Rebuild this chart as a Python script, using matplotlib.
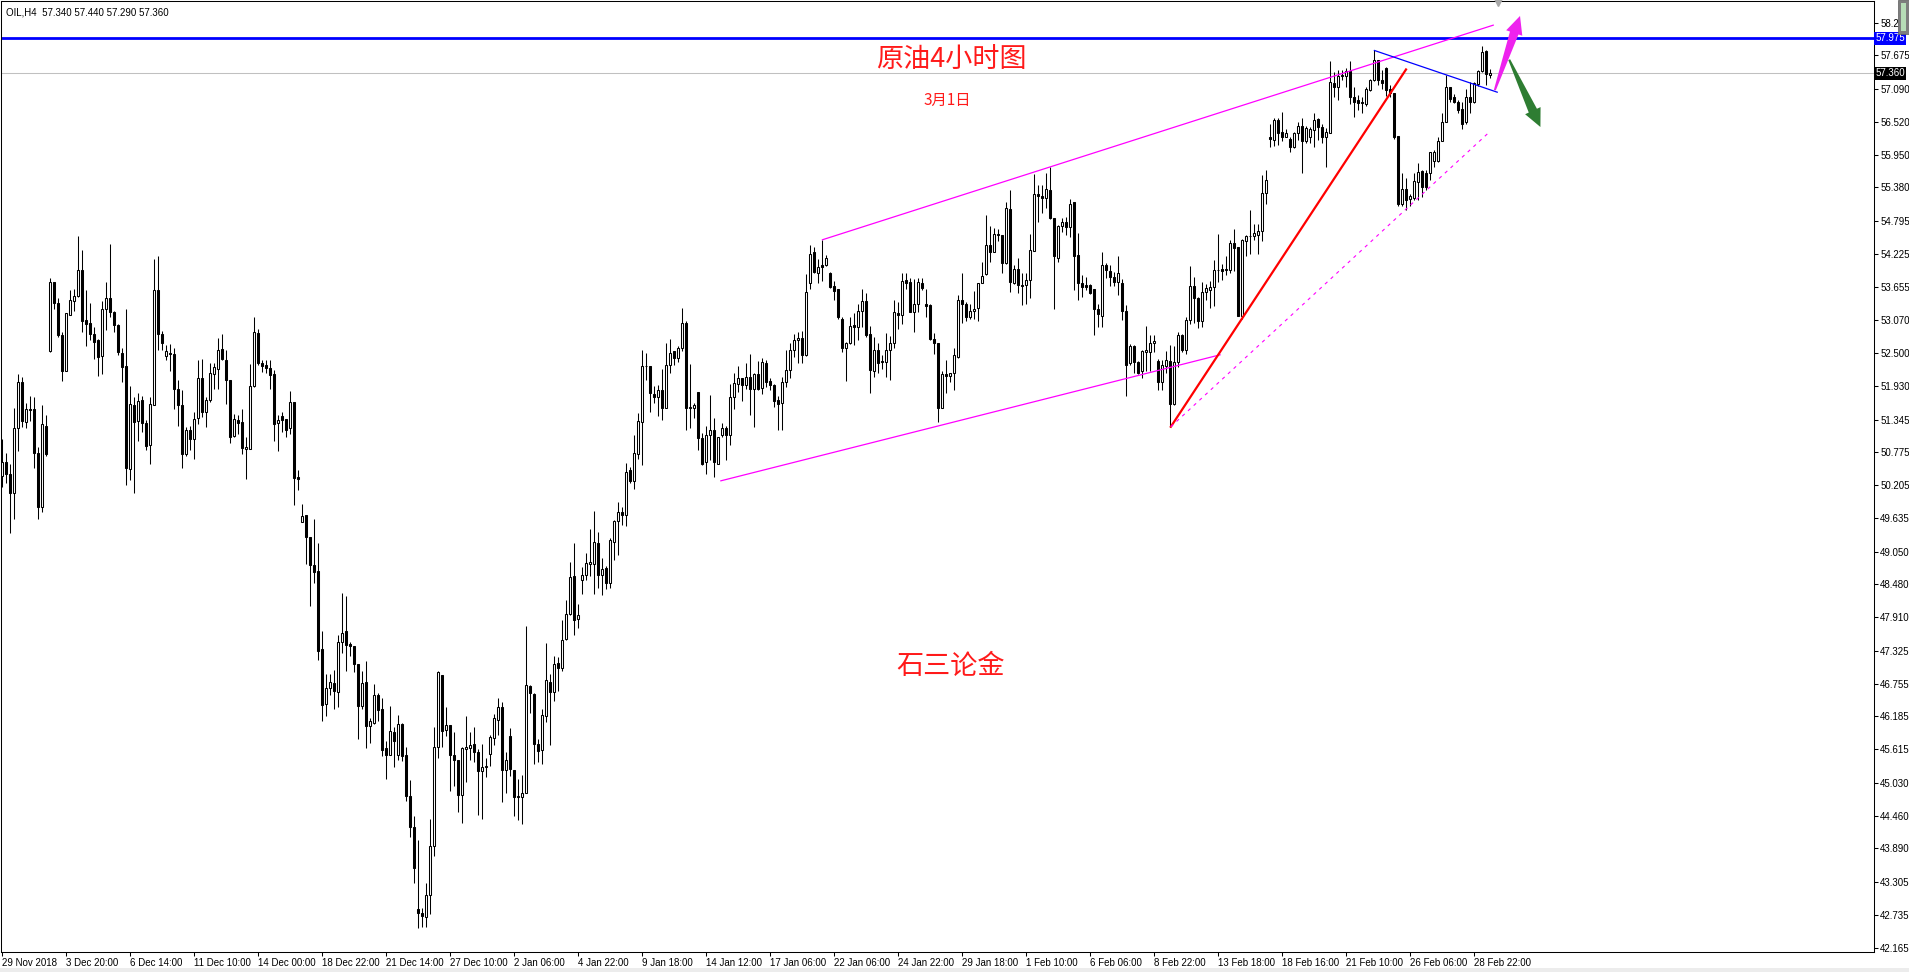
import numpy as np
import matplotlib as mpl
import matplotlib.pyplot as plt
from matplotlib.patches import Polygon, Rectangle
from matplotlib.transforms import IdentityTransform

mpl.rcParams['font.family'] = ['Liberation Sans', 'DejaVu Sans']
mpl.rcParams['axes.linewidth'] = 0.75

cjk_font = ['Noto Sans CJK SC', 'DejaVu Sans']

symbol_line = 'OIL,H4  57.340 57.440 57.290 57.360'

# H4 candles (bar 0 = 29 Nov 2018)
opens = [
    50.36, 50.60, 50.40, 50.07, 51.19, 51.99, 51.30, 51.52, 51.52, 50.76,
    49.82, 51.24, 52.54, 53.73, 53.37, 52.81, 52.19, 53.17, 53.41, 53.49,
    53.95, 53.08, 53.03, 52.83, 52.72, 52.45, 53.26, 53.46, 53.21, 52.98,
    52.51, 52.27, 50.49, 51.59, 51.32, 51.68, 51.29, 50.91, 51.60, 53.60,
    52.83, 52.45, 52.51, 52.49, 51.87, 51.59, 50.75, 51.17, 51.01, 51.38,
    52.06, 51.48, 51.68, 52.14, 52.23, 52.57, 52.38, 52.03, 51.06, 51.34,
    51.31, 50.84, 50.84, 51.92, 52.85, 52.33, 52.29, 52.24, 52.14, 51.28,
    51.40, 51.35, 51.19, 51.65, 50.34, 49.57, 49.68, 49.30, 48.82, 48.71,
    47.35, 46.40, 46.68, 46.77, 46.61, 47.47, 47.67, 47.44, 47.41, 47.10,
    46.37, 46.78, 46.02, 46.07, 46.56, 46.31, 45.63, 45.51, 45.92, 45.51,
    46.05, 45.51, 44.80, 44.27, 42.83, 42.76, 42.69, 43.08, 43.93, 45.65,
    46.91, 45.95, 46.03, 45.52, 45.42, 44.82, 45.62, 45.64, 45.70, 45.57,
    45.24, 45.31, 45.54, 45.81, 46.13, 46.35, 45.26, 45.85, 45.26, 44.81,
    44.78, 44.86, 46.72, 46.58, 45.70, 45.60, 46.20, 46.79, 46.61, 47.11,
    47.03, 47.53, 47.97, 48.62, 47.88, 48.56, 48.64, 48.84, 48.84, 49.20,
    48.64, 48.76, 48.51, 49.22, 49.58, 49.73, 49.68, 50.47, 50.27, 50.75,
    51.31, 52.27, 52.27, 51.79, 51.74, 51.86, 51.55, 52.30, 52.53, 52.41,
    52.58, 53.02, 51.55, 51.55, 51.82, 51.02, 50.60, 51.08, 51.16, 50.58,
    51.07, 51.20, 51.08, 51.74, 51.96, 52.07, 51.95, 52.08, 51.87, 52.13,
    51.89, 52.32, 52.01, 51.95, 51.68, 51.64, 51.99, 52.20, 52.56, 52.72,
    52.77, 52.47, 53.72, 54.25, 53.90, 54.03, 54.03, 53.90, 53.66, 53.61,
    53.10, 52.59, 52.68, 52.99, 52.95, 53.23, 53.40, 52.83, 52.19, 52.56,
    52.37, 52.34, 52.56, 52.68, 53.20, 53.16, 53.77, 53.73, 53.22, 53.36,
    53.72, 53.35, 53.33, 52.75, 52.67, 51.55, 52.13, 52.10, 52.16, 52.44,
    53.43, 53.35, 53.12, 53.23, 53.28, 53.71, 53.87, 54.38, 54.26, 54.57,
    54.55, 54.06, 55.00, 53.71, 53.97, 53.69, 53.69, 53.77, 54.28, 55.27,
    55.23, 55.19, 55.33, 54.84, 54.16, 54.71, 54.77, 54.69, 55.12, 54.21,
    53.72, 53.68, 53.68, 53.61, 53.26, 53.15, 54.03, 53.93, 53.83, 53.73,
    53.71, 53.23, 52.32, 52.62, 52.35, 52.19, 52.52, 52.52, 52.68, 52.37,
    52.00, 52.28, 52.37, 51.61, 52.35, 52.81, 52.55, 53.07, 53.67, 53.45,
    53.06, 53.56, 53.60, 53.65, 53.94, 53.96, 53.94, 53.94, 54.42, 54.35,
    53.14, 54.44, 54.54, 54.53, 54.55, 54.63, 55.29, 56.25, 56.20, 56.55,
    56.34, 56.25, 56.22, 56.08, 56.32, 56.45, 56.18, 56.25, 56.38, 56.57,
    56.43, 56.25, 56.33, 57.19, 57.12, 57.31, 57.32, 57.41, 56.95, 56.90,
    56.87, 56.83, 57.07, 57.24, 57.60, 57.25, 57.45, 57.09, 57.02, 56.27,
    55.09, 55.36, 55.17, 55.19, 55.48, 55.67, 55.63, 55.63, 55.84, 55.84,
    56.19, 56.51, 57.12, 56.96, 56.87, 56.74, 56.51, 56.96, 56.87, 57.17,
    57.41, 57.75, 57.34,
]
highs = [
    51.01, 50.77, 50.58, 51.55, 52.14, 52.09, 51.63, 51.75, 51.73, 50.86,
    51.59, 51.42, 53.81, 53.74, 53.46, 52.87, 53.20, 53.59, 53.62, 54.54,
    54.29, 53.59, 53.37, 52.95, 52.75, 53.41, 53.74, 54.39, 53.23, 53.01,
    52.58, 53.26, 51.92, 51.74, 51.80, 51.75, 51.33, 51.74, 54.14, 54.18,
    52.89, 52.64, 52.65, 52.58, 52.04, 51.85, 51.22, 51.24, 51.48, 52.38,
    52.39, 51.74, 52.32, 52.32, 52.77, 52.83, 52.56, 52.03, 51.44, 51.42,
    51.53, 51.05, 52.31, 53.12, 52.92, 52.38, 52.38, 52.38, 52.20, 51.42,
    51.47, 51.36, 51.84, 51.65, 50.47, 49.87, 49.68, 49.30, 49.62, 49.20,
    47.67, 46.93, 46.93, 47.00, 47.60, 48.33, 48.28, 47.47, 47.41, 47.10,
    46.97, 47.15, 46.16, 46.75, 46.59, 46.51, 45.75, 46.37, 46.00, 46.21,
    46.07, 45.65, 45.08, 44.45, 44.04, 42.86, 43.29, 44.41, 46.00, 46.97,
    46.91, 46.35, 46.03, 45.92, 45.43, 45.65, 46.19, 45.91, 46.00, 45.62,
    45.71, 45.46, 45.87, 46.23, 46.50, 46.43, 45.56, 45.98, 45.26, 45.09,
    45.17, 47.75, 46.73, 46.60, 45.79, 46.32, 47.46, 46.92, 47.23, 47.22,
    47.86, 48.20, 48.87, 49.20, 48.14, 48.78, 49.02, 49.45, 49.75, 49.39,
    48.93, 48.80, 49.28, 49.60, 49.92, 49.83, 50.59, 50.52, 51.07, 51.46,
    52.56, 52.50, 52.27, 51.92, 51.95, 52.22, 52.68, 52.74, 52.54, 52.62,
    53.29, 53.05, 52.31, 51.63, 51.82, 51.11, 51.24, 51.78, 51.37, 51.05,
    51.29, 51.23, 51.96, 52.15, 52.27, 52.07, 52.33, 52.49, 52.15, 52.36,
    52.42, 52.38, 52.07, 51.97, 51.76, 52.09, 52.55, 52.67, 52.84, 52.87,
    52.88, 53.87, 54.38, 54.35, 54.13, 54.47, 54.20, 53.91, 53.75, 53.61,
    53.13, 52.70, 53.13, 53.19, 53.36, 53.61, 53.55, 52.97, 52.78, 52.68,
    52.47, 52.85, 52.80, 53.43, 53.39, 53.90, 53.89, 53.80, 53.78, 53.81,
    53.81, 53.61, 53.35, 52.85, 52.68, 52.19, 52.38, 52.16, 52.58, 53.51,
    53.89, 53.39, 53.36, 53.58, 53.72, 54.09, 54.90, 54.71, 54.67, 54.65,
    54.55, 55.12, 55.34, 54.03, 54.15, 53.89, 53.89, 54.57, 55.61, 55.42,
    55.42, 55.63, 55.73, 54.84, 54.73, 54.84, 54.87, 55.17, 55.13, 54.59,
    53.86, 53.82, 53.70, 53.62, 53.36, 54.26, 54.07, 54.03, 53.91, 54.19,
    53.78, 53.34, 52.66, 52.64, 52.37, 52.55, 52.97, 52.81, 52.81, 52.39,
    52.38, 52.54, 52.64, 52.63, 52.87, 52.83, 53.13, 54.01, 53.82, 53.47,
    53.73, 53.70, 53.76, 54.12, 54.57, 54.05, 54.19, 54.47, 54.66, 54.35,
    54.48, 54.55, 54.98, 54.74, 54.74, 55.60, 55.68, 56.49, 56.59, 56.58,
    56.69, 56.39, 56.25, 56.35, 56.52, 56.58, 56.45, 56.43, 56.67, 56.58,
    56.48, 56.41, 57.57, 57.38, 57.42, 57.42, 57.45, 57.58, 57.13, 56.99,
    56.96, 57.12, 57.26, 57.77, 57.60, 57.42, 57.48, 57.16, 57.02, 56.27,
    55.63, 55.54, 55.26, 55.63, 55.81, 55.68, 55.68, 56.00, 56.03, 56.26,
    56.67, 57.34, 57.12, 57.01, 56.90, 56.87, 57.09, 57.22, 57.22, 57.42,
    57.84, 57.77, 57.44,
]
lows = [
    50.17, 50.25, 49.38, 49.62, 50.80, 51.22, 51.19, 51.32, 50.51, 49.62,
    49.73, 50.71, 52.52, 53.27, 52.78, 52.02, 52.19, 53.16, 53.24, 53.48,
    52.87, 52.62, 52.73, 52.40, 52.11, 52.13, 52.90, 53.12, 52.87, 52.46,
    52.00, 50.20, 50.30, 50.06, 50.97, 51.12, 50.81, 50.58, 51.59, 52.55,
    52.55, 52.38, 52.19, 51.53, 51.24, 50.51, 50.72, 50.81, 50.66, 51.26,
    51.39, 51.22, 51.65, 51.88, 51.88, 52.38, 51.62, 50.93, 51.05, 51.10,
    50.75, 50.32, 50.83, 51.91, 52.30, 52.17, 52.16, 51.88, 50.98, 50.80,
    51.12, 51.04, 51.10, 49.86, 50.12, 49.57, 48.84, 48.11, 48.51, 47.16,
    46.10, 46.19, 46.56, 46.32, 46.35, 47.29, 46.97, 47.23, 46.95, 45.79,
    46.32, 45.63, 45.73, 46.05, 46.10, 45.49, 45.09, 45.51, 45.30, 45.43,
    45.41, 44.71, 44.09, 43.29, 42.51, 42.53, 42.53, 42.75, 43.76, 45.46,
    45.65, 45.84, 44.89, 44.98, 44.52, 44.33, 45.05, 45.43, 45.40, 44.47,
    44.41, 45.14, 45.33, 45.68, 45.87, 44.69, 44.86, 45.15, 44.46, 44.38,
    44.32, 44.86, 46.25, 45.36, 45.39, 45.35, 46.09, 45.68, 46.46, 46.63,
    46.97, 47.51, 47.95, 47.60, 47.73, 48.31, 48.55, 48.62, 48.32, 48.42,
    48.29, 48.40, 48.41, 48.90, 48.99, 49.51, 49.50, 50.25, 50.13, 50.66,
    50.56, 52.04, 51.48, 51.63, 51.41, 51.34, 51.54, 52.15, 52.29, 52.35,
    52.54, 51.16, 51.19, 51.37, 50.82, 50.55, 50.39, 50.65, 50.35, 50.58,
    51.04, 50.64, 50.90, 51.52, 51.82, 51.67, 51.87, 51.43, 51.22, 51.86,
    51.79, 51.91, 51.86, 51.57, 51.16, 51.16, 51.91, 52.06, 52.44, 52.32,
    52.32, 52.45, 53.62, 53.90, 53.72, 53.75, 54.01, 53.64, 53.42, 53.10,
    52.52, 52.02, 52.66, 52.64, 52.73, 52.96, 52.78, 51.81, 52.09, 52.15,
    52.22, 52.09, 52.03, 52.58, 52.92, 53.00, 53.62, 53.21, 52.87, 53.22,
    53.60, 53.13, 52.73, 52.48, 51.31, 51.54, 51.80, 52.00, 51.86, 52.42,
    53.02, 53.05, 53.10, 53.10, 53.06, 53.71, 53.86, 54.09, 54.25, 54.44,
    53.90, 54.05, 53.57, 53.70, 53.54, 53.34, 53.35, 53.45, 54.28, 54.78,
    54.94, 55.02, 54.83, 53.26, 54.09, 54.61, 54.55, 54.52, 53.60, 53.42,
    53.48, 53.60, 53.53, 52.81, 52.95, 52.96, 53.80, 53.67, 53.67, 53.51,
    53.07, 51.76, 52.30, 52.16, 52.13, 52.06, 52.19, 52.19, 52.52, 51.86,
    51.85, 52.15, 51.22, 51.60, 52.26, 52.52, 52.49, 53.00, 53.02, 52.93,
    52.96, 53.42, 53.28, 53.31, 53.74, 53.77, 53.86, 53.89, 53.93, 53.14,
    53.10, 54.18, 54.23, 54.47, 54.22, 54.45, 55.10, 56.08, 56.10, 56.12,
    56.18, 56.25, 56.00, 56.06, 56.20, 55.63, 56.15, 56.16, 56.09, 56.20,
    56.16, 55.74, 56.32, 56.96, 56.90, 57.25, 57.13, 56.83, 56.60, 56.73,
    56.67, 56.79, 57.06, 57.23, 57.16, 57.09, 56.97, 56.96, 56.23, 55.05,
    55.05, 54.99, 55.05, 55.16, 55.16, 55.22, 55.34, 55.51, 55.74, 55.83,
    56.18, 56.51, 56.87, 56.84, 56.68, 56.39, 56.49, 56.68, 56.84, 57.14,
    57.39, 57.16, 57.29,
]
closes = [
    50.60, 50.40, 50.07, 51.20, 51.99, 51.32, 51.52, 51.51, 50.76, 49.82,
    51.26, 50.74, 53.73, 53.37, 52.81, 52.19, 53.19, 53.43, 53.49, 53.94,
    53.06, 53.01, 52.84, 52.69, 52.43, 53.26, 53.45, 53.22, 52.99, 52.52,
    52.25, 50.51, 51.61, 51.30, 51.66, 51.29, 50.89, 51.61, 53.60, 52.84,
    52.68, 52.53, 52.49, 51.88, 51.60, 50.75, 51.16, 51.01, 51.36, 52.06,
    51.48, 51.69, 52.16, 52.25, 52.56, 52.39, 52.04, 51.04, 51.36, 51.29,
    50.85, 50.86, 51.92, 52.87, 52.33, 52.27, 52.24, 52.12, 51.26, 51.33,
    51.34, 51.17, 51.65, 50.33, 50.32, 49.67, 49.30, 48.82, 48.70, 47.32,
    46.38, 46.68, 46.78, 46.63, 47.48, 47.63, 47.42, 47.41, 47.09, 46.37,
    46.77, 46.02, 46.10, 46.56, 46.30, 45.60, 45.51, 45.93, 45.76, 46.05,
    45.50, 44.80, 44.27, 43.55, 42.77, 42.71, 43.08, 43.93, 45.65, 46.95,
    45.93, 46.03, 45.52, 45.43, 44.82, 45.63, 45.65, 45.68, 45.57, 45.24,
    45.31, 45.33, 45.82, 46.16, 46.35, 45.25, 45.42, 45.27, 44.79, 44.79,
    44.86, 46.73, 46.60, 45.70, 45.59, 46.21, 46.81, 46.61, 47.10, 47.02,
    47.51, 47.97, 48.61, 47.86, 47.94, 48.64, 48.85, 48.87, 49.22, 48.64,
    48.75, 48.50, 49.25, 49.59, 49.74, 49.68, 50.44, 50.28, 50.76, 51.32,
    52.27, 52.28, 51.80, 51.74, 51.86, 51.54, 52.29, 52.51, 52.42, 52.58,
    53.02, 51.55, 51.56, 51.60, 51.03, 50.58, 51.08, 51.16, 50.60, 51.05,
    51.20, 51.08, 51.74, 51.98, 52.07, 51.95, 52.08, 51.87, 52.13, 51.87,
    52.35, 52.00, 51.95, 51.67, 51.62, 51.99, 52.20, 52.56, 52.73, 52.77,
    52.47, 53.56, 54.23, 53.91, 53.99, 54.00, 54.16, 53.65, 53.58, 53.13,
    52.59, 52.68, 52.97, 52.95, 53.23, 53.41, 52.81, 52.21, 52.56, 52.33,
    52.34, 52.56, 52.68, 53.21, 53.17, 53.75, 53.71, 53.22, 53.36, 53.73,
    53.64, 53.32, 52.74, 52.67, 51.54, 52.13, 52.11, 52.15, 52.47, 53.43,
    53.35, 53.13, 53.23, 53.27, 53.71, 53.84, 54.38, 54.26, 54.57, 54.55,
    54.07, 55.02, 53.73, 53.97, 53.68, 53.67, 53.77, 54.29, 55.27, 55.23,
    55.19, 55.35, 54.84, 54.18, 54.71, 54.77, 54.70, 55.10, 54.18, 53.72,
    53.65, 53.65, 53.54, 53.26, 53.18, 54.03, 53.94, 53.82, 53.73, 53.90,
    53.24, 52.30, 52.62, 52.35, 52.16, 52.54, 52.55, 52.68, 52.71, 52.00,
    52.29, 52.38, 51.62, 52.35, 52.81, 52.55, 53.07, 53.67, 53.45, 53.06,
    53.56, 53.63, 53.65, 53.94, 53.95, 53.93, 53.97, 54.42, 54.32, 53.14,
    54.47, 54.54, 54.53, 54.58, 54.63, 55.28, 55.51, 56.22, 56.55, 56.33,
    56.25, 56.33, 56.09, 56.32, 56.45, 56.18, 56.41, 56.39, 56.56, 56.43,
    56.25, 56.34, 57.21, 57.12, 57.32, 57.34, 57.41, 56.95, 56.87, 56.85,
    56.84, 57.09, 57.25, 57.60, 57.24, 57.19, 57.07, 57.02, 56.26, 55.09,
    55.36, 55.16, 55.23, 55.49, 55.65, 55.38, 55.38, 55.99, 56.00, 56.19,
    56.51, 57.12, 56.91, 56.87, 56.73, 56.49, 56.96, 56.87, 57.19, 57.41,
    57.73, 57.35, 57.36,
]

time_labels = ['29 Nov 2018', '3 Dec 20:00', '6 Dec 14:00', '11 Dec 10:00', '14 Dec 00:00',
               '18 Dec 22:00', '21 Dec 14:00', '27 Dec 10:00', '2 Jan 06:00', '4 Jan 22:00',
               '9 Jan 18:00', '14 Jan 12:00', '17 Jan 06:00', '22 Jan 06:00', '24 Jan 22:00',
               '29 Jan 18:00', '1 Feb 10:00', '6 Feb 06:00', '8 Feb 22:00', '13 Feb 18:00',
               '18 Feb 16:00', '21 Feb 10:00', '26 Feb 06:00', '28 Feb 22:00']
bars_per_label = 16

price_ticks = [58.240, 57.675, 57.090, 56.520, 55.950, 55.380, 54.795, 54.225, 53.655,
               53.070, 52.500, 51.930, 51.345, 50.775, 50.205, 49.635, 49.050, 48.480,
               47.910, 47.325, 46.755, 46.185, 45.615, 45.030, 44.460, 43.890, 43.305,
               42.735, 42.165]

resistance_level = 57.975
bid_level = 57.360

# drawn objects, anchored in (bar, price)
upper_channel = ([205.0, 372.7], [54.47, 58.20])
lower_channel = ([179.6, 304.4], [50.28, 52.47])
red_trend = ([292.1, 350.9], [51.22, 57.43])
dashed_trend = ([292.1, 371.7], [51.22, 56.34])
blue_trend = ([343.0, 373.7], [57.76, 57.035])
up_arrow = ((373.1, 57.07), (379.4, 58.36))
down_arrow = ((376.7, 57.60), (384.5, 56.43))


def draw_arrow(ax, start, end, color, tail_w=2.0, shaft_w=9.0, head_w=17.0, head_len=18.0):
    p0 = ax.transData.transform(start)
    p1 = ax.transData.transform(end)
    d = p1 - p0
    u = d / np.hypot(d[0], d[1])
    n = np.array([-u[1], u[0]])
    b = p1 - u * head_len
    pts = [p0 + n * tail_w / 2, b + n * shaft_w / 2, b + n * head_w / 2, p1,
           b - n * head_w / 2, b - n * shaft_w / 2, p0 - n * tail_w / 2]
    patch = Polygon(pts, closed=True, facecolor=color, edgecolor='none',
                    transform=IdentityTransform(), zorder=6, clip_on=False)
    ax.add_artist(patch)


W, H = 1909, 972
fig = plt.figure(figsize=(W / 100, H / 100), dpi=100)
fig.patch.set_facecolor('white')
ax = fig.add_axes([1 / W, 20 / H, 1873 / W, 951 / H])

o = np.array(opens)
h = np.array(highs)
l = np.array(lows)
c = np.array(closes)
x = np.arange(len(o))

ax.vlines(x, l, h, color='black', lw=0.75, zorder=3)
face = np.where(c >= o, 'white', 'black')
ax.bar(x, np.abs(c - o), bottom=np.minimum(o, c), width=0.5, color=face,
       edgecolor='black', linewidth=0.75, zorder=4)

ax.axhline(resistance_level, color='#0000ff', lw=2.0, zorder=2)
ax.axhline(bid_level, color='#c0c0c0', lw=0.75, zorder=1)

ax.plot(*upper_channel, color='#ff00ff', lw=0.9, zorder=5)
ax.plot(*lower_channel, color='#ff00ff', lw=0.9, zorder=5)
ax.plot(*red_trend, color='#ff0000', lw=1.6, zorder=5)
ax.plot(*dashed_trend, color='#ff00ff', lw=0.8, ls=(0, (3, 4)), zorder=5)
ax.plot(*blue_trend, color='#0000ff', lw=0.9, zorder=5)

ax.set_xlim(-0.375, 467.9)
ax.set_ylim(42.09, 58.62)

ax.set_xticks(np.arange(len(time_labels)) * bars_per_label)
ax.set_xticklabels(time_labels)
for lab in ax.get_xticklabels():
    lab.set_horizontalalignment('left')
ax.yaxis.tick_right()
ax.set_yticks(price_ticks)
ax.set_yticklabels(['%.3f' % p for p in price_ticks])
ax.tick_params(axis='both', direction='out', length=3, width=0.75, labelsize=7, pad=1.5)

for sp in ax.spines.values():
    sp.set_color('black')

draw_arrow(ax, *up_arrow, color='#ee22ee')
draw_arrow(ax, *down_arrow, color='#2e7d32')

# price boxes on the axis
for level, bg in [(resistance_level, '#0000ff'), (bid_level, '#000000')]:
    ax.annotate('%.3f' % level, xy=(1.0, level), xycoords=('axes fraction', 'data'),
                xytext=(1.0, 0), textcoords='offset points', ha='left', va='center',
                fontsize=7, color='white', zorder=10, annotation_clip=False,
                bbox=dict(boxstyle='square,pad=0.15', fc=bg, ec='none'))

ax.text(0.0027, 0.9935, symbol_line, transform=ax.transAxes, ha='left', va='top', fontsize=7)

ax.text(0.5072, 0.9375, '原油4小时图', transform=ax.transAxes, ha='center', va='center',
        fontsize=19.5, color='#ff1a1a', family=cjk_font, fontweight='light')
ax.text(0.5051, 0.8955, '3月1日', transform=ax.transAxes, ha='center', va='center',
        fontsize=11, color='#ff1a1a', family=cjk_font, fontweight='light')
ax.text(0.5072, 0.3000, '石三论金', transform=ax.transAxes, ha='center', va='center',
        fontsize=19.5, color='#ff1a1a', family=cjk_font, fontweight='light')

# chart shift marker and scroll widget
ax.plot([0.7993], [0.9985], marker='v', ms=6, color='#a8a8a8', transform=ax.transAxes,
        clip_on=False, zorder=7)
fig.patches.append(Rectangle((1898 / W, 1 - 34 / H), 11 / W, 34 / H, transform=fig.transFigure,
                             facecolor='#7d7d7d', edgecolor='#5a5a5a', lw=0.5, zorder=10))
fig.patches.append(Rectangle((1901 / W, 1 - 31 / H), 5 / W, 28 / H, transform=fig.transFigure,
                             facecolor='#b6dcb6', edgecolor='none', zorder=11))
fig.patches.append(Rectangle((0, 0), 1, 4 / H, transform=fig.transFigure,
                             facecolor='#ececec', edgecolor='none', zorder=0))

fig.savefig('out.png', dpi=100)
